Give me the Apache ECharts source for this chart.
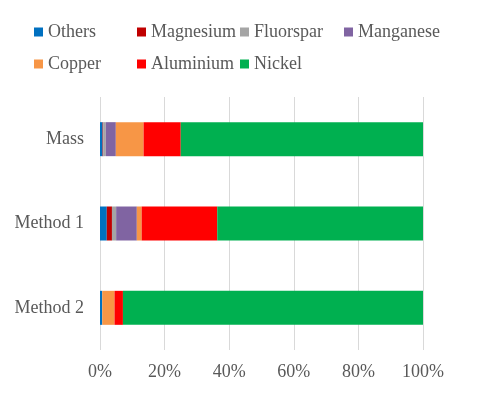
<!DOCTYPE html>
<html>
<head>
<meta charset="utf-8">
<script src="https://cdn.jsdelivr.net/npm/echarts@6/dist/echarts.min.js"></script>
<style>
	html, body { margin: 0; padding: 0; background: #fff; }
	#chart { width: 480px; height: 396px; }
</style>
</head>
<body>
<div id="chart"></div>
<script type="text/javascript">
	// categories, top to bottom
	var categories = ['Mass', 'Method 1', 'Method 2'];
	var xTicks = [0, 20, 40, 60, 80, 100];

	// share of each material, %
	var others    = [0.8, 2.1, 0.7];
	var magnesium = [0.2, 1.6, 0];
	var fluorspar = [0.8, 1.3, 0];
	var manganese = [3.1, 6.4, 0];
	var copper    = [8.6, 1.5, 3.8];
	var aluminium = [11.5, 23.4, 2.6];
	var nickel    = [75.0, 63.7, 92.9];

	var names  = ['Others', 'Magnesium', 'Fluorspar', 'Manganese', 'Copper', 'Aluminium', 'Nickel'];
	var values = [others, magnesium, fluorspar, manganese, copper, aluminium, nickel];
	var colors = ['#0070C0', '#C00000', '#A5A5A5', '#8064A2', '#F79646', '#FF0000', '#00B050'];

	var font = 'Liberation Serif';
	var grey = '#595959';

	var series = [];
	for (var i = 0; i < names.length; i++) {
		series.push({
			name: names[i],
			type: 'bar',
			stack: 'total',
			barWidth: 34,
			itemStyle: { color: colors[i] },
			data: values[i]
		});
	}

	// one legend per item so the columns line up like the original
	var legendCols = [34, 137, 240, 344];
	var legendRows = [23, 55];
	var legends = [];
	for (var j = 0; j < names.length; j++) {
		legends.push({
			left: legendCols[j % 4],
			top: legendRows[Math.floor(j / 4)],
			icon: 'rect',
			itemWidth: 9,
			itemHeight: 9,
			padding: 0,
			data: [names[j]],
			textStyle: {
				fontFamily: font,
				fontSize: 18,
				color: grey
			}
		});
	}

	var myChart = echarts.init(document.getElementById('chart'));
	myChart.setOption({
		animation: false,
		textStyle: { fontFamily: font },
		legend: legends,
		grid: {
			left: 100,
			right: 57,
			top: 97,
			bottom: 46
		},
		xAxis: {
			type: 'value',
			min: xTicks[0],
			max: xTicks[xTicks.length - 1],
			interval: xTicks[1] - xTicks[0],
			axisLine: { show: false },
			axisTick: { show: false },
			splitLine: { lineStyle: { color: '#D9D9D9', width: 1 } },
			axisLabel: {
				formatter: '{value}%',
				fontFamily: font,
				fontSize: 18,
				color: grey,
				margin: 13
			}
		},
		yAxis: {
			type: 'category',
			inverse: true,
			data: categories,
			axisLine: { show: false },
			axisTick: { show: false },
			axisLabel: {
				fontFamily: font,
				fontSize: 18,
				color: grey,
				margin: 16
			}
		},
		series: series
	});
</script>
</body>
</html>
